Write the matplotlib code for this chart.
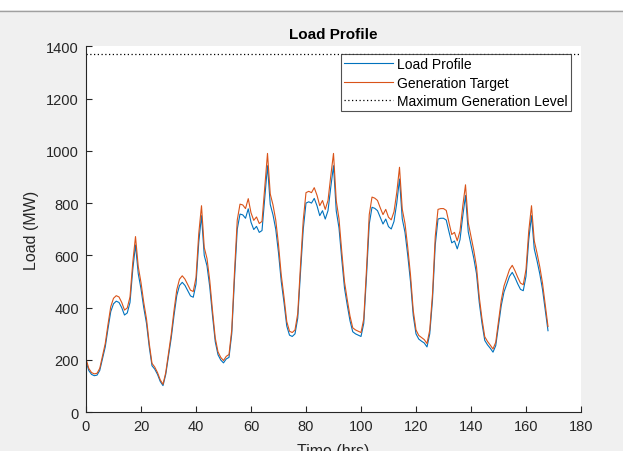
import numpy as np
import matplotlib
matplotlib.use("Agg")
import matplotlib.pyplot as plt
from matplotlib.patches import Rectangle
from matplotlib.lines import Line2D

plt.rcParams['font.family'] = ['Liberation Sans', 'DejaVu Sans']

# hourly load over one week (MW)
load = [195, 160, 145, 140, 142, 160, 205, 250, 320, 385, 415, 425,
        420, 400, 372, 380, 420, 545, 640, 530, 472, 400, 340, 250,
        178, 165, 145, 118, 102, 145, 215, 285, 370, 446, 485, 497,
        485, 465, 445, 440, 490, 650, 752, 600, 560, 480, 370, 270,
        220, 200, 189, 204, 210, 300, 510, 700, 758, 755, 742, 778,
        727, 699, 711, 688, 695, 820, 943, 795, 755, 700, 610, 500,
        420, 330, 295, 290, 300, 360, 535, 700, 800, 805, 800, 818,
        790, 752, 771, 739, 771, 860, 943, 770, 705, 586, 475, 410,
        350, 308, 300, 295, 290, 340, 520, 720, 784, 780, 771, 745,
        720, 739, 710, 701, 730, 800, 892, 740, 688, 600, 500, 370,
        300, 280, 272, 265, 250, 300, 430, 640, 739, 742, 742, 735,
        690, 648, 655, 625, 660, 750, 829, 690, 640, 590, 530, 420,
        340, 275, 258, 245, 230, 255, 330, 408, 460, 490, 520, 535,
        515, 491, 470, 465, 520, 660, 752, 625, 580, 530, 470, 390,
        312]

gen_target = [205, 168, 152, 147, 149, 168, 215, 263, 336, 404, 436, 446,
              441, 420, 391, 399, 441, 572, 672, 557, 496, 420, 357, 263,
              187, 173, 152, 124, 107, 152, 226, 299, 389, 468, 509, 522,
              509, 488, 467, 462, 515, 683, 790, 630, 588, 504, 389, 284,
              231, 210, 198, 214, 221, 315, 536, 735, 796, 793, 779, 817,
              763, 734, 747, 722, 730, 861, 990, 835, 793, 735, 641, 525,
              441, 347, 310, 305, 315, 378, 562, 735, 840, 845, 840, 859,
              830, 790, 810, 776, 810, 903, 990, 809, 740, 615, 499, 431,
              368, 323, 315, 310, 305, 357, 546, 756, 823, 819, 810, 782,
              756, 776, 746, 736, 767, 840, 937, 777, 722, 630, 525, 389,
              315, 294, 286, 278, 263, 315, 452, 672, 776, 779, 779, 772,
              725, 680, 688, 656, 693, 788, 870, 725, 672, 620, 557, 441,
              357, 289, 271, 257, 242, 268, 347, 428, 483, 515, 546, 562,
              541, 516, 494, 488, 546, 693, 790, 656, 609, 557, 494, 410,
              328]

max_gen = 1370
hours = np.arange(len(load))

fig = plt.figure(figsize=(6.23, 4.52), dpi=100, facecolor="#f0f0f0")
# white strip + separator at the very top (window chrome)
fig.patches.append(Rectangle((0, 1 - 11 / 452), 1, 11 / 452, transform=fig.transFigure,
                             facecolor="white", edgecolor="none", zorder=-1))
fig.add_artist(Line2D([0, 1], [1 - 11.5 / 452] * 2, transform=fig.transFigure,
                      color="#a0a0a0", lw=1))

ax = fig.add_axes([86 / 623, 1 - 413.3 / 452, 495 / 623, 366.1 / 452])
ax.set_facecolor("white")

ax.plot(hours, load, color="#0072BD", lw=0.8, label="Load Profile")
ax.plot(hours, gen_target, color="#D95319", lw=0.8, label="Generation Target")
ax.axhline(max_gen, color="black", lw=0.9, ls=(0, (1, 2)), label="Maximum Generation Level")

ax.set_xlim(0, 180)
ax.set_ylim(0, 1400)
ax.set_xticks(np.arange(0, 181, 20))
ax.set_yticks(np.arange(0, 1401, 200))
for s in ["top", "right"]:
    ax.spines[s].set_visible(False)
for s in ["left", "bottom"]:
    ax.spines[s].set_color("#262626")
    ax.spines[s].set_linewidth(0.8)
ax.tick_params(direction="in", length=4, width=0.8, colors="#262626", labelsize=10.5, pad=5)

ax.set_title("Load Profile", fontsize=11, fontweight="bold", color="black", pad=6)
ax.set_ylabel("Load (MW)", fontsize=11.5, color="#262626", labelpad=5)
ax.set_xlabel("Time (hrs)", fontsize=11.5, color="#262626", labelpad=7)

leg = ax.legend(loc="upper right", bbox_to_anchor=(0.98, 0.979), fontsize=10,
                frameon=True, fancybox=False, edgecolor="#262626", handlelength=3.5,
                handletextpad=0.3, borderpad=0.25, labelspacing=0.3, borderaxespad=0)
leg.get_frame().set_linewidth(0.8)

fig.savefig("out.png", dpi=100, facecolor=fig.get_facecolor())
